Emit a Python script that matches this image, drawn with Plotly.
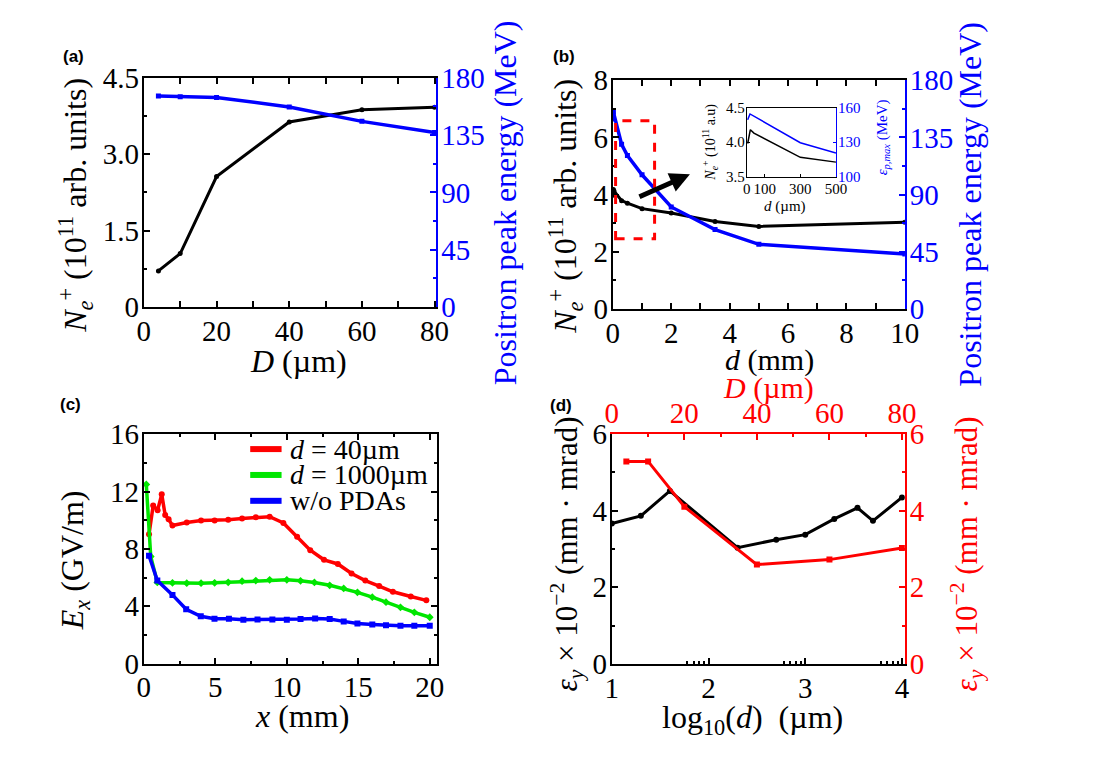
import math
import plotly.graph_objects as go

W, H = 1102, 763
SERIF = "Liberation Serif, Times New Roman, serif"
BLUE = "#0000ff"
RED = "#ff0000"
GREEN = "#00e600"

# ---- data -------------------------------------------------------------
# (a) positron number / peak energy vs D
a_D = [4, 10, 20, 40, 60, 80]
a_num = [0.71, 1.05, 2.56, 3.63, 3.87, 3.92]
a_energy = [165.7, 165.0, 164.5, 157.0, 145.7, 137.0]

# (b) vs d (mm)
b_d_num = [0.005, 0.02, 0.04, 0.3, 0.5, 1, 2, 3.5, 5, 10]
b_num = [3.98, 4.18, 4.13, 3.79, 3.70, 3.51, 3.36, 3.06, 2.89, 3.03]
b_d_energy = [0.005, 0.02, 0.3, 0.5, 1, 2, 3.5, 5, 10]
b_energy = [149.5, 154.9, 129.6, 120.8, 105.6, 80.3, 62.5, 50.9, 43.3]

# inset of (b), d in um
ins_d_num = [5, 20, 40, 300, 500]
ins_num = [3.98, 4.18, 4.13, 3.78, 3.71]
ins_d_energy = [5, 18, 300, 500]
ins_energy = [149.5, 154.5, 129.5, 120.5]

# (c) E_x along x
c_x_40 = [0.36, 0.65, 0.96, 1.25, 1.49, 1.73, 2.0, 3.0, 4.0, 4.95, 5.9, 6.87, 7.83,
          8.8, 9.76, 10.72, 11.64, 12.6, 13.57, 14.53, 15.49, 16.46, 17.42, 18.67, 19.76]
c_e_40 = [9.03, 11.03, 10.70, 11.81, 10.36, 10.07, 9.63, 9.85, 9.98, 9.98, 10.03, 10.12, 10.21,
          10.25, 9.81, 8.85, 7.91, 7.24, 6.95, 6.28, 5.79, 5.41, 5.01, 4.68, 4.41]
c_x_1000 = [0.17, 0.48, 0.94, 2.0, 3.0, 4.0, 4.95, 5.9, 6.87, 7.83, 8.8, 10.0, 10.96,
            11.93, 13.0, 13.98, 14.94, 15.98, 16.94, 17.95, 18.92, 20.0]
c_e_1000 = [12.5, 7.47, 5.66, 5.63, 5.61, 5.61, 5.63, 5.67, 5.75, 5.79, 5.84, 5.84, 5.77,
            5.66, 5.46, 5.24, 4.97, 4.63, 4.28, 3.92, 3.57, 3.23]
c_x_none = [0.36, 0.94, 2.0, 2.96, 3.98, 4.94, 5.95, 6.96, 7.95, 8.99, 10.0, 10.96, 11.98,
            13.0, 13.98, 14.94, 15.98, 16.94, 17.95, 18.92, 20.0]
c_e_none = [7.53, 5.79, 4.79, 3.79, 3.30, 3.12, 3.12, 3.05, 3.08, 3.08, 3.05, 3.10, 3.14,
            3.10, 2.94, 2.79, 2.72, 2.67, 2.63, 2.63, 2.63]
c_names = ["<i>d</i> = 40µm", "<i>d</i> = 1000µm", "w/o PDAs"]

# (d) emittance
d_logd = [1.0, 1.3, 1.6, 2.3, 2.7, 3.0, 3.3, 3.54, 3.7, 4.0]
d_emit_d = [3.66, 3.86, 4.51, 3.03, 3.24, 3.37, 3.78, 4.07, 3.73, 4.34]
d_D = [4, 10, 20, 40, 60, 80]
d_emit_D = [5.28, 5.28, 4.10, 2.59, 2.72, 3.02]

# decorations in panel (b)
box_b = dict(x0=0.095, x1=1.43, y0=2.46, y1=6.58)
arrow_b = dict(tail=(0.86, 3.9), head=(2.64, 4.71))


def fx(p):
    return p / W


def fy(p):
    return 1 - p / H


def ax(rng, color="black", size=29, **kw):
    d = dict(range=rng, showline=True, linecolor=color, linewidth=2,
             ticks="inside", ticklen=6, tickwidth=1.5, tickcolor=color,
             tickfont=dict(family=SERIF, size=size, color=color),
             ticklabelstandoff=-3 if size > 20 else -2,
             showgrid=False, zeroline=False)
    d.update(kw)
    return d


def minor(dt, ln=3, **kw):
    return dict(ticks="inside", ticklen=ln, dtick=dt, tick0=0, showgrid=False, **kw)


fig = go.Figure()

# (a)
fig.add_trace(go.Scatter(x=a_D, y=a_num, mode="lines+markers", xaxis="x", yaxis="y",
                         line=dict(color="black", width=3), marker=dict(size=5), showlegend=False))
fig.add_trace(go.Scatter(x=a_D, y=a_energy, mode="lines+markers", xaxis="x", yaxis="y2",
                         line=dict(color=BLUE, width=3.5), marker=dict(size=5, symbol="square"),
                         showlegend=False))
# (b)
fig.add_trace(go.Scatter(x=b_d_num, y=b_num, mode="lines+markers", xaxis="x2", yaxis="y3",
                         line=dict(color="black", width=3), marker=dict(size=5), showlegend=False))
fig.add_trace(go.Scatter(x=b_d_energy, y=b_energy, mode="lines+markers", xaxis="x2", yaxis="y4",
                         line=dict(color=BLUE, width=3.5), marker=dict(size=5, symbol="square"),
                         showlegend=False))
# inset
fig.add_trace(go.Scatter(x=ins_d_num, y=ins_num, mode="lines", xaxis="x3", yaxis="y5",
                         line=dict(color="black", width=1.5), showlegend=False))
fig.add_trace(go.Scatter(x=ins_d_energy, y=ins_energy, mode="lines", xaxis="x3", yaxis="y6",
                         line=dict(color=BLUE, width=1.5), showlegend=False))
# (c)
c_series = [(c_x_40, c_e_40, RED, "circle"),
            (c_x_1000, c_e_1000, GREEN, "diamond"),
            (c_x_none, c_e_none, BLUE, "square")]
for xs, ys, col, sym in c_series:
    fig.add_trace(go.Scatter(x=xs, y=ys, mode="lines+markers", xaxis="x4", yaxis="y7",
                             line=dict(color=col, width=3.5), marker=dict(size=6, symbol=sym),
                             showlegend=False))
# (d)
fig.add_trace(go.Scatter(x=d_logd, y=d_emit_d, mode="lines+markers", xaxis="x5", yaxis="y8",
                         line=dict(color="black", width=3), marker=dict(size=6), showlegend=False))
fig.add_trace(go.Scatter(x=d_D, y=d_emit_D, mode="lines+markers", xaxis="x6", yaxis="y9",
                         line=dict(color=RED, width=3), marker=dict(size=6, symbol="square"),
                         showlegend=False))

A_X, A_Y = [fx(131.5), fx(430)], [fy(295.5), fy(56)]
B_X, B_Y = [fx(610), fx(908)], [fy(297.5), fy(58.7)]
I_X, I_Y = [fx(746.7), fx(837.7)], [fy(159.3), fy(87.3)]
C_X, C_Y = [fx(131.5), fx(430.5)], [fy(667.5), fy(428.3)]
D_X, D_Y = [fx(609), fx(908)], [fy(668), fy(427.7)]

log_minor = [n + math.log10(k) for n in (1, 2, 3) for k in (6, 7, 8, 9)]

fig.update_layout(
    width=W, height=H, autosize=False,
    margin=dict(l=0, r=0, t=0, b=0),
    paper_bgcolor="white", plot_bgcolor="white",
    showlegend=False,
    xaxis=ax([0, 80.5], domain=A_X, anchor="y", dtick=20, mirror="allticks", minor=minor(10)),
    yaxis=ax([0, 4.5], domain=A_Y, anchor="x", tickvals=[0, 1.5, 3, 4.5],
             ticktext=["0", "1.5", "3.0", "4.5"], minor=minor(0.75)),
    yaxis2=ax([0, 180], BLUE, overlaying="y", side="right", anchor="x", dtick=45,
              minor=minor(22.5)),
    xaxis2=ax([0, 10], domain=B_X, anchor="y3", dtick=2, mirror="allticks", minor=minor(1)),
    yaxis3=ax([0, 8], domain=B_Y, anchor="x2", dtick=2, minor=minor(1)),
    yaxis4=ax([0, 180], BLUE, overlaying="y3", side="right", anchor="x2", dtick=45,
              minor=minor(22.5)),
    xaxis3=ax([0, 500], domain=I_X, anchor="y5", size=15, tickvals=[0, 100, 300, 500],
              mirror=True, linewidth=1, ticklen=3, tickwidth=1),
    yaxis5=ax([3.5, 4.5], domain=I_Y, anchor="x3", size=15, tickvals=[3.5, 4.0, 4.5],
              ticktext=["3.5", "4.0", "4.5"], linewidth=1, ticklen=3, tickwidth=1),
    yaxis6=ax([100, 160], BLUE, overlaying="y5", side="right", anchor="x3", size=15,
              tickvals=[100, 130, 160], linewidth=1, ticklen=3, tickwidth=1),
    xaxis4=ax([0, 20.5], domain=C_X, anchor="y7", dtick=5, mirror="allticks", minor=minor(2.5)),
    yaxis7=ax([0, 16], domain=C_Y, anchor="x4", dtick=4, mirror="allticks", minor=minor(2)),
    xaxis5=ax([1, 4.03], domain=D_X, anchor="y8", dtick=1,
              minor=dict(ticks="inside", ticklen=3, tickvals=log_minor)),
    yaxis8=ax([0, 6], domain=D_Y, anchor="x5", dtick=2, minor=minor(1)),
    xaxis6=ax([0, 80.8], RED, overlaying="x5", side="top", anchor="y8", dtick=20,
              minor=minor(10)),
    yaxis9=ax([0, 6], RED, overlaying="y8", side="right", anchor="x5", dtick=2, minor=minor(1)),
)

fig.add_shape(type="rect", xref="x2", yref="y3", line=dict(color=RED, width=3, dash="dash"),
              **box_b)
fig.add_annotation(x=arrow_b["head"][0], y=arrow_b["head"][1], ax=arrow_b["tail"][0],
                   ay=arrow_b["tail"][1], xref="x2", yref="y3", axref="x2", ayref="y3",
                   text="", showarrow=True, arrowhead=2, arrowsize=0.8, arrowwidth=5,
                   arrowcolor="black")

# legend of (c), drawn by hand
for i, (name, (_, _, col, _)) in enumerate(zip(c_names, c_series)):
    yy = fy(443.7 + 27 * i)
    fig.add_shape(type="line", xref="paper", yref="paper", x0=fx(240), x1=fx(272),
                  y0=yy, y1=yy, line=dict(color=col, width=6))
    fig.add_annotation(text=name, x=fx(279), y=yy, xref="paper", yref="paper",
                       xanchor="left", yanchor="middle", showarrow=False,
                       font=dict(family=SERIF, size=28, color="black"))

NE = "<i>N</i><sub><i>e</i></sub><sup>+</sup>"
EPS = "<i>ε</i><sub><i>y</i></sub> × 10<sup>−2</sup> (mm · mrad)"
T = 32
titles = [
    # text, x, y, angle, color, size
    (NE + " (10<sup>11</sup> arb. units)", 61, 189, -90, "black", T),
    ("<i>D</i> (µm)", 289, 352, 0, "black", T),
    ("Positron peak energy (MeV)", 500, 187, -90, BLUE, T),
    (NE + " (10<sup>11</sup> arb. units)", 561, 190, -90, "black", T),
    ("<i>d</i> (mm)", 770, 351, 0, "black", 30),
    ("Positron peak energy (MeV)", 975, 188, -90, BLUE, T),
    (NE + " (10<sup>11</sup> a.u)", 709, 123, -90, "black", 14),
    ("<i>ε</i><sub><i>p,max</i></sub> (MeV)", 886, 118, -90, BLUE, 15),
    ("<i>d</i> (µm)", 786, 190, 0, "black", 15),
    ("<i>E</i><sub><i>x</i></sub> (GV/m)", 61, 560, -90, "black", T),
    ("<i>x</i> (mm)", 293, 722, 0, "black", T),
    (EPS, 563, 553, -90, "black", 31),
    (EPS, 971, 553, -90, RED, 31),
    ("log<sub>10</sub>(<i>d</i>)  (µm)", 753, 726, 0, "black", T),
    ("<i>D</i> (µm)", 769, 380, 0, RED, 30),
]
for text, x, y, ang, col, sz in titles:
    fig.add_annotation(text=text, x=fx(x), y=fy(y), xref="paper", yref="paper",
                       xanchor="center", yanchor="middle", textangle=ang, showarrow=False,
                       font=dict(family=SERIF, size=sz, color=col))

for lab, x, y in [("(a)", 60, 34), ("(b)", 560, 34), ("(c)", 57, 397), ("(d)", 557, 398)]:
    fig.add_annotation(text="<b>" + lab + "</b>", x=fx(x), y=fy(y), xref="paper", yref="paper",
                       xanchor="center", yanchor="middle", showarrow=False,
                       font=dict(family="Liberation Sans", size=17, color="black"))

fig.write_html("out.html")
